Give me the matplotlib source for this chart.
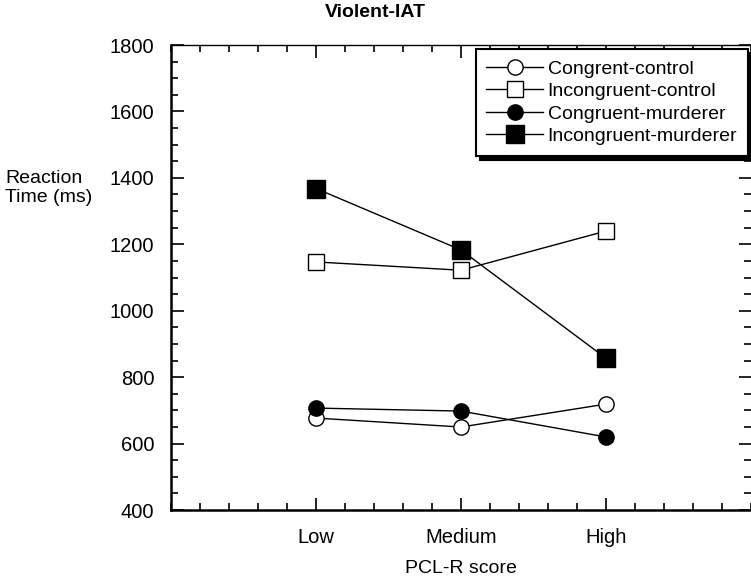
import matplotlib.pyplot as plt
from matplotlib.ticker import MultipleLocator

plt.rcParams['font.family'] = ['Liberation Sans', 'DejaVu Sans']

# categories and series (reaction time in ms)
categories = ["Low", "Medium", "High"]
congruent_control = [677, 650, 719]
incongruent_control = [1147, 1122, 1240]
congruent_murderer = [707, 698, 620]
incongruent_murderer = [1368, 1183, 857]

fig = plt.figure(figsize=(7.51, 5.77), dpi=100)
ax = fig.add_axes([0.2277, 0.116, 0.7723, 0.806])

x = list(range(len(categories)))
ax.plot(x, congruent_control, color='black', lw=1, marker='o', ms=11,
        mfc='white', mec='black', mew=1, label='Congrent-control')
ax.plot(x, incongruent_control, color='black', lw=1, marker='s', ms=11,
        mfc='white', mec='black', mew=1, label='Incongruent-control')
ax.plot(x, congruent_murderer, color='black', lw=1, marker='o', ms=11,
        mfc='black', mec='black', label='Congruent-murderer')
ax.plot(x, incongruent_murderer, color='black', lw=1, marker='s', ms=12.5,
        mfc='black', mec='black', label='Incongruent-murderer')

ax.set_xlim(-1, 3)
ax.set_ylim(400, 1800)
ax.set_xticks(x)
ax.set_xticklabels(categories)
ax.xaxis.set_minor_locator(MultipleLocator(0.2))
ax.yaxis.set_major_locator(MultipleLocator(200))
ax.yaxis.set_minor_locator(MultipleLocator(50))

ax.tick_params(which='both', direction='in', top=True, right=True,
               labelsize=14.5, width=1.2)
ax.tick_params(which='major', length=9)
ax.tick_params(which='minor', length=5)
ax.tick_params(axis='y', pad=12)
ax.tick_params(axis='x', pad=13)

for side in ['left', 'bottom']:
    ax.spines[side].set_linewidth(1.8)
ax.spines['top'].set_linewidth(1.0)
ax.spines['right'].set_visible(False)

ax.set_xlabel("PCL-R score", fontsize=14, labelpad=9)
fig.text(0.007, 0.675, "Reaction\nTime (ms)", fontsize=14, ha='left', va='center',
         linespacing=1.15)
fig.text(0.5, 0.978, "Violent-IAT", fontsize=14, fontweight='bold',
         ha='center', va='center')

leg = ax.legend(loc='upper right', bbox_to_anchor=(0.998, 0.995), fontsize=14,
                frameon=True, fancybox=False, handlelength=2.9,
                handletextpad=0.25, labelspacing=0.25, borderpad=0.55,
                borderaxespad=0.1,
                shadow={'color': 'black', 'alpha': 1, 'ox': 3, 'oy': -3})
leg.get_frame().set_edgecolor('black')
leg.get_frame().set_linewidth(1.5)

fig.savefig("out.png", dpi=100)
